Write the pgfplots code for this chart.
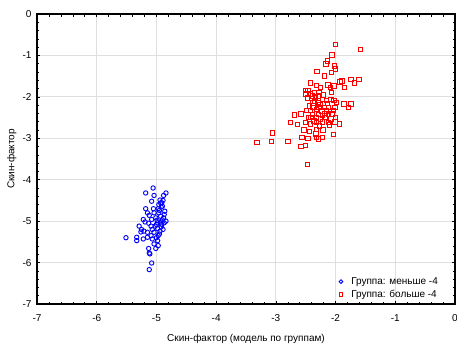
\documentclass[border=0pt]{standalone}
\usepackage{pgfplots}
\pgfplotsset{compat=1.18}
\usepackage{fontspec}
\setmainfont{Liberation Sans}
\begin{document}
\begin{tikzpicture}
\useasboundingbox (-37pt,-39pt) rectangle (420pt,304pt);
\begin{axis}[
  scale only axis, width=418pt, height=290pt,
  at={(0,0)}, anchor=south west,
  xmin=-7, xmax=0, ymin=-7, ymax=0,
  xtick={-7,...,0}, ytick={-7,...,0},
  minor tick num=4,
  tick align=inside,
  major tick length=3pt, minor tick length=2.5pt,
  every tick/.style={black, line width=0.6pt},
  grid=major,
  major grid style={gray!25, line width=0.8pt},
  axis line style={black, line width=1.2pt},
  font=\fontsize{10}{12}\selectfont,
  tick label style={font=\fontsize{10}{12}\selectfont},
  /pgf/number format/assume math mode=true,
  xticklabel style={yshift=-7pt},
  yticklabel style={xshift=-2pt},
  xlabel={Скин-фактор (модель по группам)},
  ylabel={Скин-фактор},
  xlabel style={at={(axis description cs:0.5,0)}, anchor=north, yshift=-27pt},
  ylabel style={at={(axis description cs:0,0.5)}, anchor=south, yshift=17pt},
  legend style={at={(rel axis cs:0.987,0.004)}, anchor=south east, draw=none, fill=none,
    font=\fontsize{10}{12}\selectfont, row sep=0pt, nodes={inner xsep=8.5pt}},
  legend image code/.code={\draw[mark repeat=2,mark phase=2,mark size=1.8pt] plot coordinates {(0cm,0cm) (0.15cm,0cm) (0.3cm,0cm)};},
  legend cell align=left,
]
\addplot[only marks, mark=o, mark size=2.2pt, blue, line width=0.9pt] coordinates {
(-5.056,-4.20) (-5.18,-4.32) (-4.84,-4.32) (-4.88,-4.38) (-5.04,-4.38)
(-5.08,-4.52) (-4.94,-4.49) (-4.91,-4.56) (-4.96,-4.60) (-4.90,-4.64)
(-4.97,-4.70) (-4.86,-4.76) (-5.18,-4.70) (-5.15,-4.80) (-5.12,-4.86)
(-5.22,-4.96) (-5.19,-5.02) (-4.93,-4.88) (-5.01,-4.92) (-4.90,-4.97)
(-4.84,-5.00) (-4.98,-5.04) (-5.29,-5.12) (-5.25,-5.20) (-5.26,-5.26)
(-5.21,-5.24) (-5.07,-5.20) (-4.98,-5.18) (-4.89,-5.20) (-5.04,-5.27)
(-5.09,-5.35) (-5.51,-5.40) (-5.33,-5.39) (-5.33,-5.47) (-5.22,-5.43)
(-5.15,-5.39) (-5.07,-5.43) (-4.98,-5.47) (-5.04,-5.55) (-4.97,-5.59)
(-5.01,-5.66) (-5.13,-5.66) (-5.12,-5.77) (-5.11,-5.79) (-5.08,-6.01)
(-5.12,-6.17) (-4.93,-4.56) (-4.96,-4.80) (-4.87,-4.84) (-5.00,-5.08)
(-4.91,-5.08) (-4.95,-5.31) (-5.09,-5.12) (-5.15,-5.27) (-4.97,-5.35)
(-4.87,-5.04) (-5.04,-4.80) (-5.08,-4.96) (-4.92,-4.66) (-4.95,-4.74)
(-4.88,-4.92) (-4.99,-4.98) (-4.92,-5.14) (-5.02,-5.12) (-4.94,-5.24)
(-5.05,-4.70) (-4.89,-4.50) (-4.93,-5.02) (-5.13,-5.05) (-5.00,-5.40)
};
\addlegendentry{Группа: меньше -4}
\addplot[only marks, mark=square, mark size=2.2pt, red, line width=0.9pt] coordinates {
(-2.00,-0.73) (-1.58,-0.85) (-2.06,-0.99) (-2.14,-1.13) (-2.16,-1.21)
(-2.02,-1.25) (-2.00,-1.33) (-2.31,-1.38) (-2.07,-1.41) (-2.19,-1.50)
(-1.61,-1.58) (-1.74,-1.58) (-1.89,-1.62) (-1.93,-1.64) (-1.68,-1.66)
(-2.42,-1.66) (-2.32,-1.72) (-2.13,-1.71) (-2.03,-1.74) (-1.85,-1.78)
(-2.25,-1.78) (-2.09,-1.78) (-2.50,-1.85) (-2.46,-1.85) (-2.35,-1.90)
(-2.28,-1.90) (-2.07,-1.89) (-2.50,-1.93) (-2.42,-1.93) (-2.47,-2.03)
(-2.34,-2.02) (-2.29,-1.98) (-2.22,-2.06) (-2.15,-2.09) (-2.08,-2.06)
(-2.03,-2.09) (-1.99,-2.14) (-2.35,-2.10) (-2.29,-2.13) (-1.86,-2.17)
(-1.74,-2.17) (-1.78,-2.25) (-2.44,-2.22) (-2.38,-2.25) (-2.28,-2.26)
(-2.19,-2.25) (-2.12,-2.25) (-2.01,-2.25) (-2.49,-2.33) (-2.42,-2.33)
(-2.32,-2.30) (-2.23,-2.34) (-2.15,-2.34) (-2.04,-2.33) (-2.58,-2.41)
(-2.69,-2.44) (-2.39,-2.42) (-2.29,-2.42) (-2.22,-2.45) (-2.12,-2.42)
(-2.06,-2.41) (-2.41,-2.50) (-2.32,-2.50) (-2.25,-2.53) (-2.17,-2.50)
(-2.08,-2.53) (-2.00,-2.50) (-2.76,-2.62) (-2.64,-2.67) (-2.50,-2.62)
(-2.42,-2.65) (-2.32,-2.62) (-2.22,-2.61) (-2.12,-2.62) (-2.01,-2.61)
(-1.94,-2.65) (-2.53,-2.80) (-2.44,-2.83) (-2.32,-2.78) (-2.21,-2.80)
(-2.33,-2.90) (-2.56,-2.98) (-2.46,-3.00) (-2.32,-2.98) (-2.22,-2.98)
(-2.29,-3.02) (-2.04,-2.91) (-3.06,-2.87) (-3.07,-3.08) (-3.32,-3.10)
(-2.80,-3.08) (-2.58,-3.20) (-2.50,-3.17) (-2.47,-3.63) (-2.38,-2.15)
(-2.26,-2.18) (-2.18,-2.40) (-2.36,-2.58) (-2.27,-2.70) (-2.14,-2.16)
(-2.39,-1.98) (-2.20,-1.95) (-2.45,-2.50) (-2.10,-2.68)
};
\addlegendentry{Группа: больше -4}
\end{axis}
\end{tikzpicture}
\end{document}
